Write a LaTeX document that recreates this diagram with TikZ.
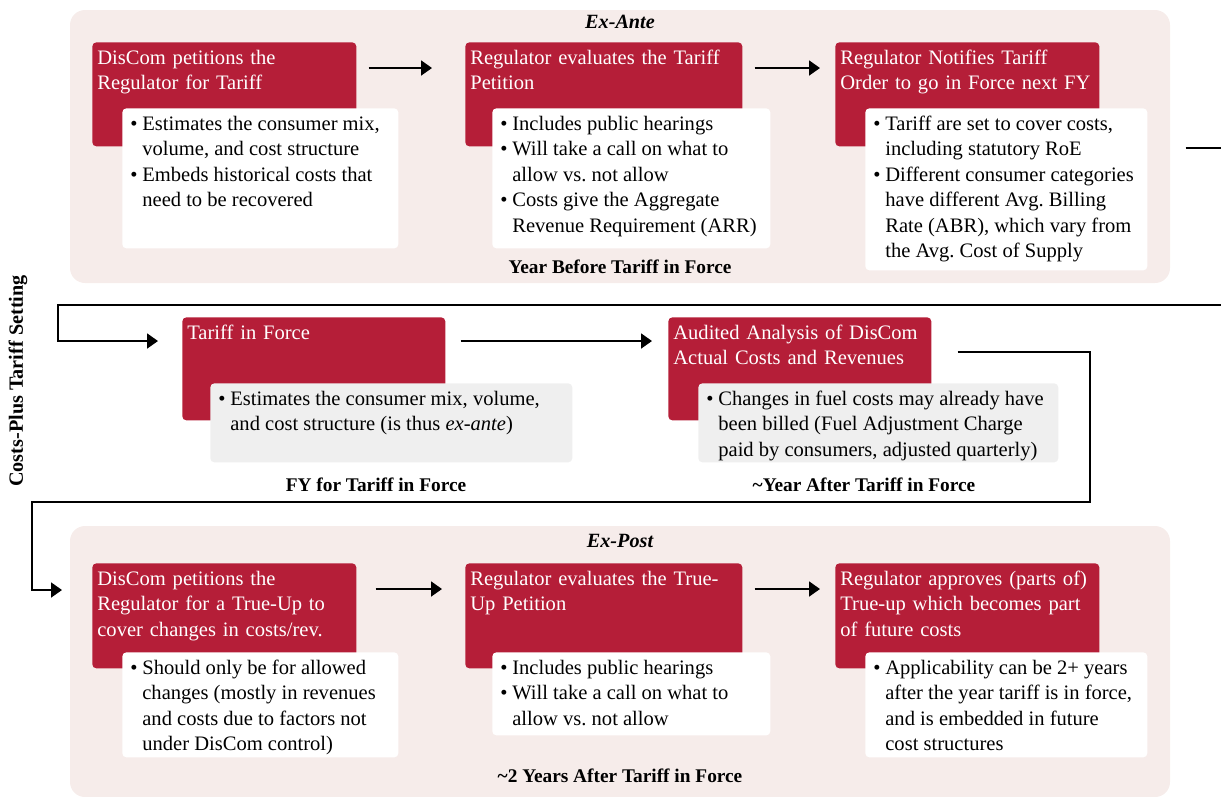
\documentclass[tikz,border=0pt]{standalone}
\usepackage{fontspec}
\setmainfont{Liberation Serif}
\usetikzlibrary{arrows.meta, calc}
\definecolor{tariffred}{HTML}{B51E38}
\definecolor{panelpink}{HTML}{F6ECEA}
\definecolor{notegrey}{HTML}{EFEFEF}
% bullet point with hanging indent
\newcommand{\bpt}{\par\noindent\hangindent=0.34cm\hangafter=1\makebox[0.34cm][l]{\hspace{0.1cm}\textbullet}}
% top-aligned block of bullet points
\newcommand{\notebody}[2]{\begin{minipage}[t]{#1}#2\end{minipage}}

\begin{document}
\begin{tikzpicture}[
    x=0.02cm, y=-0.02cm,
    stage/.style={anchor=north west, fill=tariffred, text=white, rounded corners=0.08cm, align=left,
        inner xsep=0.1cm, inner ysep=0.12cm, text height=0.32cm, font=\fontsize{11.7}{14.5}\selectfont},
    note/.style={anchor=north west, fill=white, rounded corners=0.08cm,
        inner xsep=0.06cm, inner ysep=0.12cm, text height=0.32cm, font=\fontsize{11.7}{14.5}\selectfont},
    greynote/.style={note, fill=notegrey},
    period/.style={font=\fontsize{11}{13}\selectfont\bfseries},
    panel/.style={fill=panelpink, rounded corners=0.3cm},
    flow/.style={-{Triangle[length=0.22cm, width=0.3cm]}, line width=1.1pt}
]
    \useasboundingbox (0,0) rectangle (1221,796);

    % --- TOP: EX-ANTE PANEL ---
    \fill[panel] (70,10) rectangle (1170,283);
    \node[period, font=\fontsize{11.5}{13}\selectfont\bfseries\itshape] (exante) at (620,22) {Ex-Ante};
    \node[period] (yearbefore) at (620,267) {Year Before Tariff in Force};

    \node[stage, text width=5.08cm, text depth=1.52cm] (petition) at (92,42)
        {DisCom petitions the\\Regulator for Tariff};
    \node[note, text depth=2.24cm] (petitionnote) at ($(petition.north west)+(30,66)$)
        {\notebody{5.4cm}{\bpt Estimates the consumer mix,\\volume, and cost structure
         \bpt Embeds historical costs that\\need to be recovered}};

    \node[stage, text width=5.34cm, text depth=1.52cm] (evaluate) at (465,42)
        {Regulator evaluates the Tariff\\Petition};
    \node[note, text depth=2.24cm] (evaluatenote) at ($(evaluate.north west)+(27,66)$)
        {\notebody{5.44cm}{\bpt Includes public hearings
         \bpt Will take a call on what to\\allow vs.\ not allow
         \bpt Costs give the Aggregate\\Revenue Requirement (ARR)}};

    \node[stage, text width=5.08cm, text depth=1.52cm] (notify) at (835,42)
        {Regulator Notifies Tariff\\Order to go in Force next FY};
    \node[note, text depth=2.68cm] (notifynote) at ($(notify.north west)+(30,66)$)
        {\notebody{5.52cm}{\bpt Tariff are set to cover costs,\\including statutory RoE
         \bpt Different consumer categories\\have different Avg.\ Billing\\Rate (ABR), which vary from\\the Avg.\ Cost of Supply}};

    \draw[flow] ($(petition.north east)+(12,26)$) -- ($(evaluate.north west)+(-33,26)$);
    \draw[flow] ($(evaluate.north east)+(12,26)$) -- ($(notify.north west)+(-15,26)$);

    % --- MIDDLE: TARIFF IN FORCE ---
    \node[stage, text width=5.06cm, text depth=1.5cm] (inforce) at (182,317) {Tariff in Force};
    \node[greynote, text depth=1.02cm] (inforcenote) at ($(inforce.north west)+(28,66)$)
        {\notebody{7.12cm}{\bpt Estimates the consumer mix, volume,\\and cost structure (is thus \textit{ex-ante})}};
    \node[period] (fy) at (376,485) {FY for Tariff in Force};

    \node[stage, text width=5.06cm, text depth=1.5cm] (audit) at (668,317)
        {Audited Analysis of DisCom\\Actual Costs and Revenues};
    \node[greynote, text depth=1.02cm] (auditnote) at ($(audit.north west)+(30,66)$)
        {\notebody{7.08cm}{\bpt Changes in fuel costs may already have\\been billed (Fuel Adjustment Charge\\paid by consumers, adjusted quarterly)}};
    \node[period] (yearafter) at (864,485) {\textasciitilde Year After Tariff in Force};

    \draw[flow] ($(notify.south east)+(86,1)$) -- ++(55,0) |- (58,305) |- ($(inforce.north west)+(-24,24)$);
    \draw[flow] ($(inforce.north east)+(15,24)$) -- ($(audit.north west)+(-16,24)$);

    % --- BOTTOM: EX-POST PANEL ---
    \fill[panel] (70,526) rectangle (1170,797);
    \node[period, font=\fontsize{11.5}{13}\selectfont\bfseries\itshape] (expost) at (620,541) {Ex-Post};
    \node[period] (twoyears) at (620,776) {\textasciitilde 2 Years After Tariff in Force};

    \node[stage, text width=5.08cm, text depth=1.54cm] (trueup) at (92,563)
        {DisCom petitions the\\Regulator for a True-Up to\\cover changes in costs/rev.};
    \node[note, text depth=1.54cm] (trueupnote) at ($(trueup.north west)+(30,89)$)
        {\notebody{5.4cm}{\bpt Should only be for allowed\\changes (mostly in revenues\\and costs due to factors not\\under DisCom control)}};

    \node[stage, text width=5.34cm, text depth=1.54cm] (review) at (465,563)
        {Regulator evaluates the True-\\Up Petition};
    \node[note, text depth=1.1cm] (reviewnote) at ($(review.north west)+(27,89)$)
        {\notebody{5.44cm}{\bpt Includes public hearings
         \bpt Will take a call on what to\\allow vs.\ not allow}};

    \node[stage, text width=5.08cm, text depth=1.54cm] (approve) at (835,563)
        {Regulator approves (parts of)\\True-up which becomes part\\of future costs};
    \node[note, text depth=1.54cm] (approvenote) at ($(approve.north west)+(30,89)$)
        {\notebody{5.52cm}{\bpt Applicability can be 2+ years\\after the year tariff is in force,\\and is embedded in future\\cost structures}};

    \draw[flow] ($(audit.north east)+(26,35)$) -| (1090,502) -| ($(trueup.north west)+(-60,27)$) -- ($(trueup.north west)+(-30,27)$);
    \draw[flow] ($(trueup.north east)+(19,26)$) -- ($(review.north west)+(-23,26)$);
    \draw[flow] ($(review.north east)+(12,26)$) -- ($(approve.north west)+(-15,26)$);

    % side label
    \node[rotate=90, font=\fontsize{11.5}{14}\selectfont\bfseries] (setting) at (18,381) {Costs-Plus Tariff Setting};
\end{tikzpicture}
\end{document}
